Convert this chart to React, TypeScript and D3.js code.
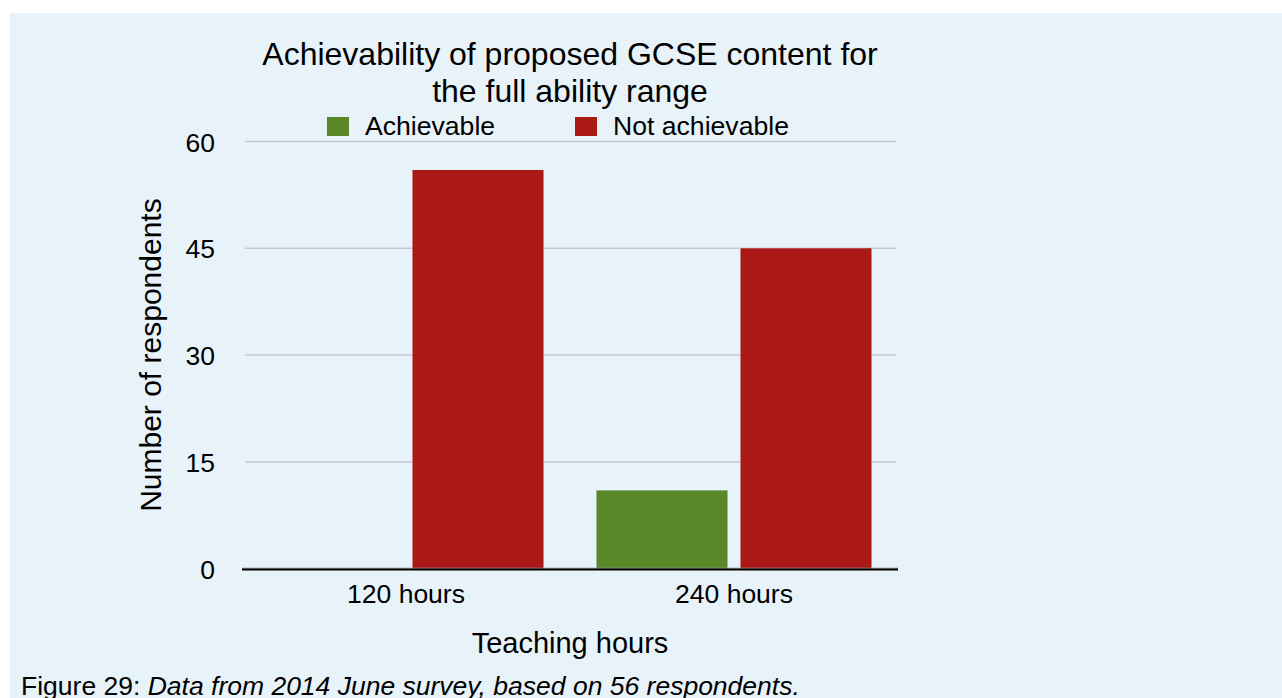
import React from "react";
import * as d3 from "d3";

const categories = ["120 hours", "240 hours"];
const seriesNames = ["Achievable", "Not achievable"];
const achievable = [0, 11];
const notAchievable = [56, 45];
const yTicks = [0, 15, 30, 45, 60];
const seriesColors = ["#5a8829", "#ab1916"];

const W = 1282;
const H = 698;
const FONT = "'Liberation Sans', Arial, Helvetica, sans-serif";

export default function App() {
  const left = 242;
  const right = 898;
  const top = 141.5;
  const bottom = 568.7;

  const x0 = d3.scaleBand<string>().domain(categories).range([left, right]).paddingInner(0).paddingOuter(0);
  const x1 = d3
    .scaleBand<string>()
    .domain(seriesNames)
    .range([0, x0.bandwidth()])
    .paddingInner(0.09)
    .paddingOuter(0.184);
  const y = d3.scaleLinear().domain([0, 60]).range([bottom, top]);

  const values = [achievable, notAchievable];

  return (
    <div style={{ position: "absolute", left: 0, top: 0 }}>
      <svg width={W} height={H} style={{ display: "block" }} fontFamily={FONT}>
        <rect x={10} y={13} width={W - 10} height={H - 13} fill="#e8f2f9" />

        {/* title */}
        <text x={(left + right) / 2} y={65} textAnchor="middle" fontSize={32} fill="#000">
          Achievability of proposed GCSE content for
        </text>
        <text x={(left + right) / 2} y={101.5} textAnchor="middle" fontSize={32} fill="#000">
          the full ability range
        </text>

        {/* legend */}
        {[
          { x: 327, tx: 365 },
          { x: 575, tx: 613 },
        ].map((p, i) => (
          <g key={seriesNames[i]}>
            <rect x={p.x} y={117} width={22} height={19} fill={seriesColors[i]} />
            <text x={p.tx} y={135} fontSize={26.6} fill="#000">
              {seriesNames[i]}
            </text>
          </g>
        ))}

        {/* gridlines and y tick labels */}
        {yTicks.map((t) => (
          <g key={t}>
            {t > 0 && (
              <line x1={left + 3} x2={right - 2} y1={y(t)} y2={y(t)} stroke="#c6cacf" strokeWidth={1.5} />
            )}
            <text x={215} y={y(t) + 10} textAnchor="end" fontSize={26.5} fill="#000">
              {t}
            </text>
          </g>
        ))}

        {/* bars */}
        {categories.map((c, ci) => (
          <g key={c} transform={`translate(${x0(c)},0)`}>
            {seriesNames.map((s, si) => {
              const v = values[si][ci];
              if (v <= 0) return null;
              return (
                <rect
                  key={s}
                  x={x1(s)}
                  y={y(v)}
                  width={x1.bandwidth()}
                  height={y(0) - y(v)}
                  fill={seriesColors[si]}
                />
              );
            })}
          </g>
        ))}

        {/* baseline */}
        <line x1={left} x2={right} y1={bottom - 0.5} y2={bottom - 0.5} stroke="#8a9096" strokeWidth={1} />
        <line x1={left} x2={right} y1={bottom + 0.8} y2={bottom + 0.8} stroke="#000" strokeWidth={2.2} />

        {/* x tick labels */}
        {categories.map((c) => (
          <text key={c} x={(x0(c) ?? 0) + x0.bandwidth() / 2} y={603} textAnchor="middle" fontSize={26.5} fill="#000">
            {c}
          </text>
        ))}

        {/* axis titles */}
        <text x={570} y={653} textAnchor="middle" fontSize={29} fill="#000">
          Teaching hours
        </text>
        <text
          transform={`translate(161,${(top + bottom) / 2}) rotate(-90)`}
          textAnchor="middle"
          fontSize={30}
          fill="#000"
        >
          Number of respondents
        </text>

        {/* caption */}
        <text x={21} y={695} fontSize={26.5} fill="#000">
          Figure 29: <tspan fontStyle="italic">Data from 2014 June survey, based on 56 respondents.</tspan>
        </text>
      </svg>
    </div>
  );
}
